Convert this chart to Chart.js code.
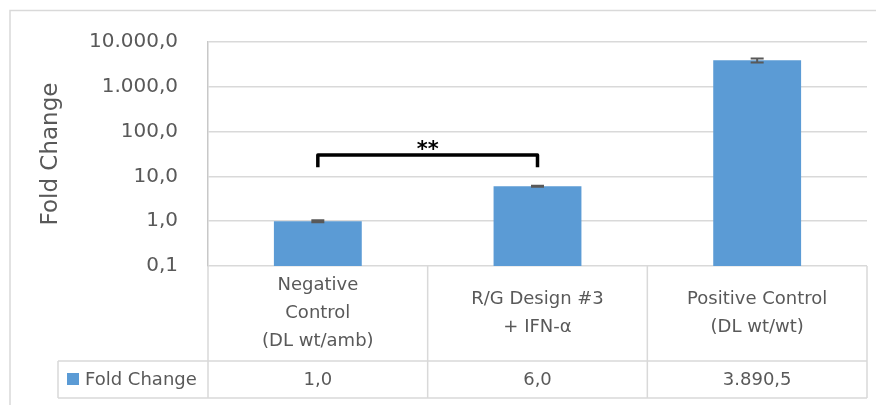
<!DOCTYPE html>
<html>
<head>
<meta charset="utf-8">
<title>Fold Change</title>
<script src="https://cdn.jsdelivr.net/npm/chart.js@4.4.1/dist/chart.umd.min.js"></script>
<style>
  html, body { margin: 0; padding: 0; background: #fff; }
</style>
</head>
<body>
<canvas id="chart" width="876" height="405"></canvas>
<script>
  "use strict";

  // Daten
  const categories = [
    ["Negative", "Control", "(DL wt/amb)"],
    ["R/G Design #3", "+ IFN-α"],
    ["Positive Control", "(DL wt/wt)"],
  ];
  const foldChange = [1.0, 6.0, 3890.5];
  const errors = [0.05, 0.15, 400];
  const seriesName = "Fold Change";
  const yTicks = [0.1, 1, 10, 100, 1000, 10000];
  const bracket = { from: 0, to: 1, level: 30, foot: 16, label: "**" };

  const FONT = "DejaVu Sans";
  const GREY = "#595959";
  const BLUE = "#5B9BD5";
  const LINE = "#d9d9d9";

  // 10000 -> "10.000,0"
  function fmt(n) {
    const [int, dec] = n.toFixed(1).split(".");
    return int.replace(/\B(?=(\d{3})+(?!\d))/g, ".") + "," + dec;
  }

  const extras = {
    id: "extras",
    beforeDraw(chart) {
      const ctx = chart.ctx;
      ctx.save();
      ctx.fillStyle = "#fff";
      ctx.fillRect(0, 0, chart.width, chart.height);
      // Rahmen des Diagramms
      ctx.strokeStyle = LINE;
      ctx.lineWidth = 1.5;
      ctx.beginPath();
      ctx.moveTo(10, chart.height);
      ctx.lineTo(10, 10.5);
      ctx.lineTo(chart.width, 10.5);
      ctx.stroke();
      ctx.restore();
    },
    afterDatasetsDraw(chart) {
      const ctx = chart.ctx;
      const x = chart.scales.x;
      const y = chart.scales.y;
      const area = chart.chartArea;
      const half = (x.getPixelForValue(1) - x.getPixelForValue(0)) / 2;

      ctx.save();

      // Fehlerbalken
      ctx.strokeStyle = GREY;
      ctx.lineWidth = 2;
      foldChange.forEach((v, i) => {
        const cx = x.getPixelForValue(i);
        const top = y.getPixelForValue(v + errors[i]);
        const bot = y.getPixelForValue(v - errors[i]);
        ctx.beginPath();
        ctx.moveTo(cx, top); ctx.lineTo(cx, bot);
        ctx.moveTo(cx - 6.5, top); ctx.lineTo(cx + 6.5, top);
        ctx.moveTo(cx - 6.5, bot); ctx.lineTo(cx + 6.5, bot);
        ctx.stroke();
      });

      // Signifikanz-Klammer
      const bx0 = x.getPixelForValue(bracket.from);
      const bx1 = x.getPixelForValue(bracket.to);
      const by = y.getPixelForValue(bracket.level);
      const bf = y.getPixelForValue(bracket.foot);
      ctx.strokeStyle = "#000";
      ctx.lineWidth = 3.5;
      ctx.lineJoin = "round";
      ctx.beginPath();
      ctx.moveTo(bx0, bf); ctx.lineTo(bx0, by); ctx.lineTo(bx1, by); ctx.lineTo(bx1, bf);
      ctx.stroke();
      ctx.fillStyle = "#000";
      ctx.font = `bold 21px "${FONT}"`;
      ctx.textAlign = "center";
      ctx.textBaseline = "alphabetic";
      ctx.fillText(bracket.label, (bx0 + bx1) / 2, by + 1);

      // Datentabelle
      const tTop = area.bottom;
      const rowMid = 361;
      const tBot = 398;
      const tLeft = 58;
      ctx.strokeStyle = LINE;
      ctx.lineWidth = 1.5;
      ctx.beginPath();
      for (let i = 0; i < categories.length; i++) {
        const xr = x.getPixelForValue(i) + half;
        ctx.moveTo(xr, tTop); ctx.lineTo(xr, tBot);
      }
      ctx.moveTo(area.left, tTop); ctx.lineTo(area.left, tBot);
      ctx.moveTo(tLeft, rowMid); ctx.lineTo(area.right, rowMid);
      ctx.moveTo(tLeft, tBot); ctx.lineTo(area.right, tBot);
      ctx.moveTo(tLeft, rowMid); ctx.lineTo(tLeft, tBot);
      ctx.stroke();

      ctx.fillStyle = GREY;
      ctx.font = `18px "${FONT}"`;
      ctx.textAlign = "center";
      ctx.textBaseline = "middle";
      const lh = 28;
      const catMid = (tTop + rowMid) / 2;
      categories.forEach((lines, i) => {
        const cx = x.getPixelForValue(i);
        const y0 = catMid - (lines.length - 1) * lh / 2;
        lines.forEach((t, j) => ctx.fillText(t, cx, y0 + j * lh));
        ctx.fillText(fmt(foldChange[i]), cx, (rowMid + tBot) / 2 + 1);
      });

      ctx.fillStyle = BLUE;
      ctx.fillRect(67, 373, 12, 12);
      ctx.fillStyle = GREY;
      ctx.textAlign = "left";
      ctx.fillText(seriesName, 85, (rowMid + tBot) / 2 + 1);

      ctx.restore();
    },
  };

  new Chart(document.getElementById("chart"), {
    type: "bar",
    data: {
      labels: categories,
      datasets: [{
        label: seriesName,
        data: foldChange,
        backgroundColor: BLUE,
        borderWidth: 0,
        barPercentage: 0.4,
        categoryPercentage: 1.0,
      }],
    },
    options: {
      responsive: false,
      animation: false,
      devicePixelRatio: 1,
      layout: { padding: { left: 0, right: 9, top: 42, bottom: 139 } },
      plugins: {
        legend: { display: false },
        tooltip: { enabled: false },
      },
      scales: {
        x: {
          display: false,
          grid: { display: false },
        },
        y: {
          type: "logarithmic",
          min: 0.1,
          max: 10000,
          afterBuildTicks: s => { s.ticks = yTicks.map(v => ({ value: v })); },
          afterFit: s => { s.width = 208; },
          grid: { color: LINE, lineWidth: 1.5, drawTicks: false },
          border: { display: true, color: "#c8c8c8", width: 1.5 },
          ticks: {
            padding: 30,
            color: GREY,
            font: { family: FONT, size: 20 },
            callback: v => fmt(v),
          },
          title: {
            display: true,
            text: "Fold Change",
            color: GREY,
            font: { family: FONT, size: 23 },
            padding: { top: 37, bottom: 0 },
          },
        },
      },
    },
    plugins: [extras],
  });
</script>
</body>
</html>
